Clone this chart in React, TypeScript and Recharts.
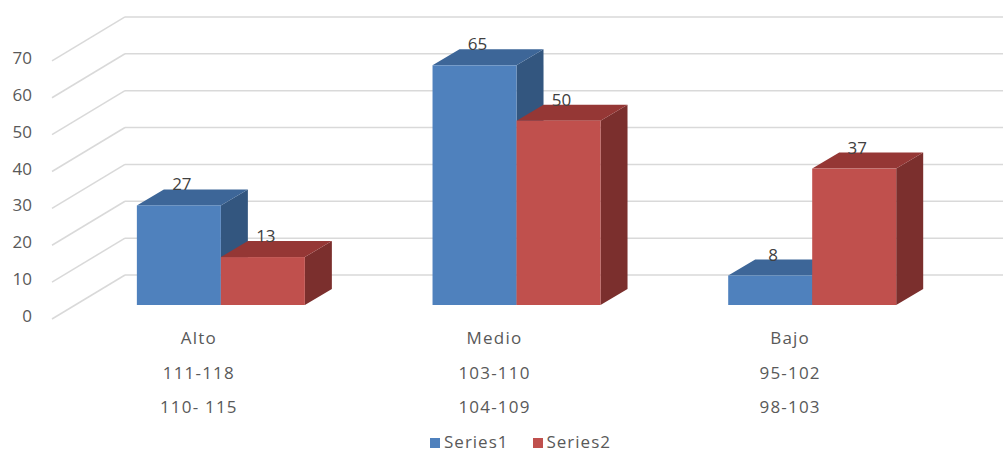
import React from 'react';
import { BarChart, Bar, XAxis, YAxis, CartesianGrid, Legend, LabelList } from 'recharts';

const categories = ['Alto', 'Medio', 'Bajo'];
const rangeRow1 = ['111-118', '103-110', '95-102'];
const rangeRow2 = ['110- 115', '104-109', '98-103'];
const series1 = [27, 65, 8];
const series2 = [13, 50, 37];
const yTicks = [0, 10, 20, 30, 40, 50, 60, 70];

const data = categories.map((c, i) => ({
  name: c,
  r1: rangeRow1[i],
  r2: rangeRow2[i],
  Series1: series1[i],
  Series2: series2[i],
}));

const DX = 27;
const DY = 16;
const FONT = "'Open Sans', 'Noto Sans', sans-serif";
const TEXT = '#595959';

const palette: Record<string, { front: string; top: string; side: string }> = {
  Series1: { front: '#4F81BD', top: '#3D6698', side: '#33567F' },
  Series2: { front: '#C0504D', top: '#953735', side: '#7B2F2D' },
};

function makeShape(key: string) {
  const c = palette[key];
  return (props: any) => {
    const { x, y, width: w, height: h } = props;
    if (w == null || h == null) return null;
    return (
      <g>
        <polygon
          points={`${x + w},${y} ${x + w + DX},${y - DY} ${x + w + DX},${y + h - DY} ${x + w},${y + h}`}
          fill={c.side}
        />
        <polygon
          points={`${x},${y} ${x + DX},${y - DY} ${x + w + DX},${y - DY} ${x + w},${y}`}
          fill={c.top}
        />
        <rect x={x} y={y} width={w} height={h} fill={c.front} />
      </g>
    );
  };
}

const renderLabel = (props: any) => {
  const { x, y, width, value } = props;
  return (
    <text
      x={x + width / 2 + 3}
      y={y - DY + 1}
      textAnchor="middle"
      fill="#404040"
      fontFamily={FONT}
      fontSize={17}
    >
      {value}
    </text>
  );
};

const gridLine = (props: any) => {
  const { x1, x2, y1 } = props;
  if (props.y != null && Math.abs(y1 - props.y) < 1) return <g key={props.key} />;
  return (
    <g key={props.key}>
      <line x1={x1 - 21} y1={y1 + 14} x2={x1 + 52} y2={y1 - 30} stroke="#D9D9D9" strokeWidth={1.5} />
      <line x1={x1 + 52} y1={y1 - 30} x2={x2 + 43} y2={y1 - 30} stroke="#D9D9D9" strokeWidth={1.5} />
    </g>
  );
};

const YTick = (props: any) => {
  const { x, y, payload } = props;
  return (
    <text x={x - 41} y={y + 17} textAnchor="end" fill={TEXT} fontFamily={FONT} fontSize={17}>
      {payload.value}
    </text>
  );
};

const XTick = (props: any) => {
  const { x, y, index } = props;
  const cx = x - 22;
  const common = {
    textAnchor: 'middle' as const,
    fill: TEXT,
    fontFamily: FONT,
    fontSize: 17,
    letterSpacing: 1.2,
  };
  return (
    <g>
      <text x={cx} y={y + 39} {...common}>
        {categories[index]}
      </text>
      <text x={cx} y={y + 74} {...common}>
        {rangeRow1[index]}
      </text>
      <text x={cx} y={y + 108} {...common}>
        {rangeRow2[index]}
      </text>
    </g>
  );
};

export default function App() {
  return (
    <div style={{ position: 'absolute', left: 0, top: 0, background: '#fff' }}>
      <BarChart
        width={1003}
        height={452}
        data={data}
        margin={{ top: 10, right: 43, left: 13, bottom: 0 }}
        barCategoryGap="21.6%"
        barGap={0}
      >
        <CartesianGrid vertical={false} horizontal={gridLine} />
        <XAxis
          dataKey="name"
          axisLine={false}
          tickLine={false}
          tickSize={0}
          tickMargin={0}
          height={127}
          tick={<XTick />}
          interval={0}
        />
        <YAxis
          domain={[0, 80]}
          ticks={yTicks}
          axisLine={false}
          tickLine={false}
          tickSize={0}
          tickMargin={0}
          width={60}
          tick={<YTick />}
        />
        <Legend
          height={20}
          iconType="square"
          iconSize={10}
          wrapperStyle={{ fontFamily: FONT, fontSize: 17, letterSpacing: 1, bottom: 0, paddingLeft: 46, lineHeight: '20px' }}
          formatter={(value: string) => <span style={{ color: TEXT, marginRight: 14 }}>{value}</span>}
        />
        <Bar dataKey="Series1" fill="#4F81BD" shape={makeShape('Series1')} isAnimationActive={false}>
          <LabelList dataKey="Series1" content={renderLabel} />
        </Bar>
        <Bar dataKey="Series2" fill="#C0504D" shape={makeShape('Series2')} isAnimationActive={false}>
          <LabelList dataKey="Series2" content={renderLabel} />
        </Bar>
      </BarChart>
    </div>
  );
}
